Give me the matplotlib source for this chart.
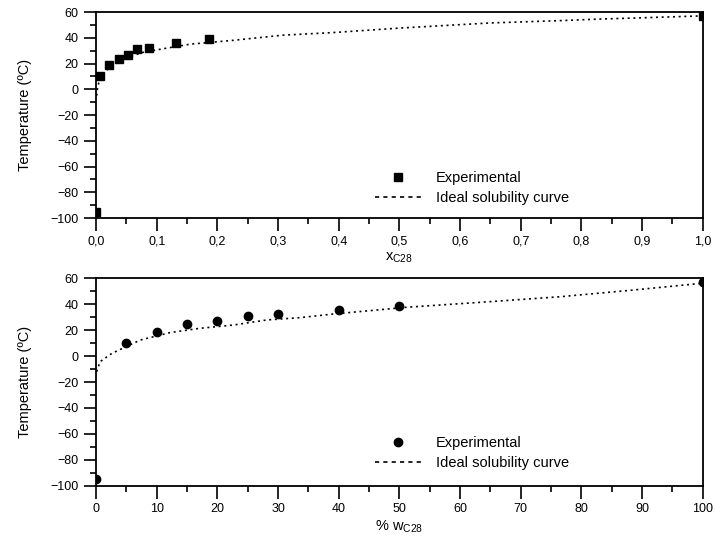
# -*- coding:utf-8 -*-
import matplotlib.pyplot as plt
from matplotlib.ticker import MultipleLocator

# dados experimentais (fracao molar)
x_exp = [0.0, 0.0066, 0.022, 0.038, 0.052, 0.067, 0.088, 0.132, 0.187, 1.0]
t_exp = [-95, 10.3, 18.8, 23.3, 26.6, 31.0, 32.3, 35.7, 38.8, 57.0]
# curva de solubilidade ideal
x_ideal = [0.001, 0.003, 0.01, 0.02, 0.04, 0.06, 0.08, 0.105, 0.155, 0.226,
           0.308, 0.39, 0.5, 0.65, 0.765, 0.83, 0.9, 1.0]
t_ideal = [-5, 3, 11, 16, 22, 26, 29, 31, 35, 38,
           42, 44, 47.5, 51.5, 53.3, 54.5, 55.5, 57]

# dados experimentais (% massa)
w_exp = [0, 5, 10, 15, 20, 25, 30, 40, 50, 100]
tw_exp = [-95, 9.8, 18.7, 24.6, 27.2, 30.8, 32.3, 35.4, 38.5, 57.0]
w_ideal = [0.1, 0.66, 2.6, 7.3, 12.2, 17.1, 22.6, 28.1, 33.6, 39.1,
           51.2, 64.9, 76.5, 88, 100]
tw_ideal = [-12, -4.4, 2, 12.3, 18, 21.3, 23.8, 27.7, 29.5, 32.3,
            37.5, 41.8, 45.6, 50.5, 56]

xticks1 = [0.0, 0.1, 0.2, 0.3, 0.4, 0.5, 0.6, 0.7, 0.8, 0.9, 1.0]
xlabels1 = ['0,0', '0,1', '0,2', '0,3', '0,4', '0,5', '0,6', '0,7', '0,8', '0,9', '1,0']
xticks2 = [0, 10, 20, 30, 40, 50, 60, 70, 80, 90, 100]
yticks = [60, 40, 20, 0, -20, -40, -60, -80, -100]

plt.rcParams['font.family'] = ['Liberation Sans', 'DejaVu Sans']

fig = plt.figure(figsize=(7.15, 5.43), dpi=100)
ax1 = fig.add_axes([0.1343, 0.5985, 0.8485, 0.3794])
ax2 = fig.add_axes([0.1343, 0.105, 0.8485, 0.383])


def estilo(ax, xt, xl, xlim):
    ax.set_xlim(xlim)
    ax.set_ylim((-100, 60))
    ax.set_xticks(xt)
    ax.set_xticklabels(xl)
    ax.set_yticks(yticks)
    ax.xaxis.set_minor_locator(MultipleLocator((xt[1] - xt[0]) / 2))
    ax.yaxis.set_minor_locator(MultipleLocator(10))
    ax.tick_params(which='major', direction='out', length=9, width=1.2, labelsize=9)
    ax.tick_params(which='minor', direction='out', length=4.5, width=1.2)
    for s in ax.spines.values():
        s.set_linewidth(1.3)
    ax.set_ylabel('Temperature (ºC)', fontsize=10.5, labelpad=13)


ax1.plot(x_ideal, t_ideal, color='black', linewidth=1.2, linestyle=(0, (1.2, 2.2)),
         label='Ideal solubility curve')
ax1.plot(x_exp, t_exp, 's', color='black', markersize=6, label='Experimental')
estilo(ax1, xticks1, xlabels1, (0, 1.0))
ax1.set_xlabel('x$_{\\mathregular{C28}}$', fontsize=10.5, labelpad=2)

ax2.plot(w_ideal, tw_ideal, color='black', linewidth=1.2, linestyle=(0, (1.2, 2.2)),
         label='Ideal solubility curve')
ax2.plot(w_exp, tw_exp, 'o', color='black', markersize=6, label='Experimental')
estilo(ax2, xticks2, [str(v) for v in xticks2], (0, 100))
ax2.set_xlabel('% w$_{\\mathregular{C28}}$', fontsize=10.5, labelpad=2)

for ax, y0 in ((ax1, 0.0), (ax2, 0.015)):
    h, l = ax.get_legend_handles_labels()
    leg = ax.legend([h[1], h[0]], [l[1], l[0]], loc='lower left',
                    bbox_to_anchor=(0.438, y0), frameon=False, fontsize=10.5,
                    handlelength=3.2, handletextpad=1.0, labelspacing=0.4)
    leg.legend_handles[1].set_linestyle((0, (2.5, 2.5)))

plt.savefig('out.png', dpi=100)
